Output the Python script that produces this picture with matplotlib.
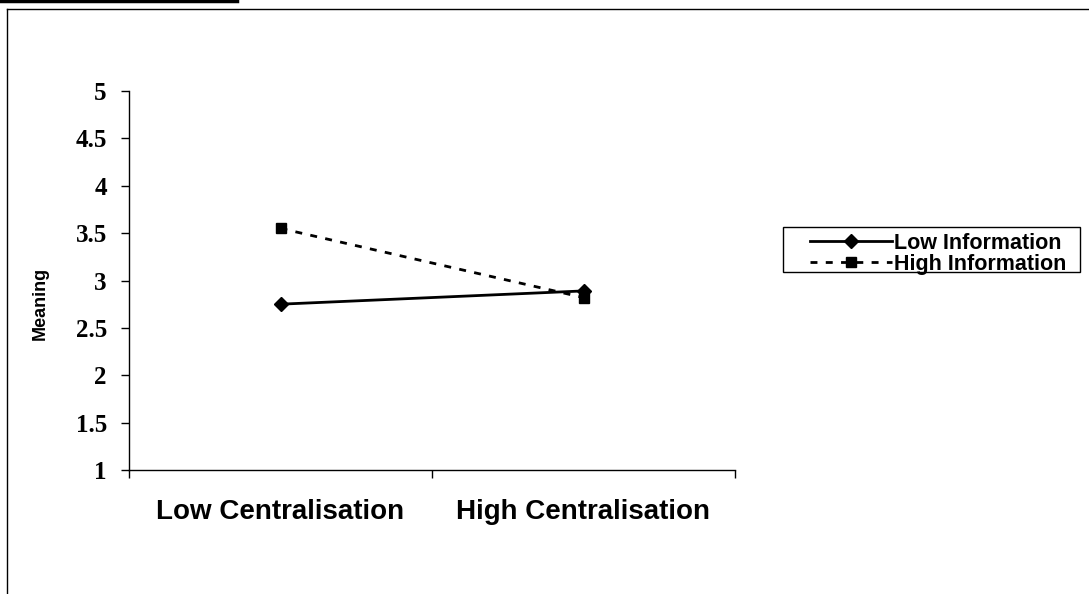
import matplotlib.pyplot as plt
from matplotlib.lines import Line2D
from matplotlib.patches import Rectangle

categories = ["Low Centralisation", "High Centralisation"]
low_info = [2.75, 2.89]
high_info = [3.55, 2.82]
series_names = ["Low Information", "High Information"]
y_ticks = [1, 1.5, 2, 2.5, 3, 3.5, 4, 4.5, 5]
y_tick_labels = ["1", "1.5", "2", "2.5", "3", "3.5", "4", "4.5", "5"]

W, H = 1089, 594


def fx(px):
    return px / W


def fy(py):
    return 1 - py / H


fig = plt.figure(figsize=(W / 100, H / 100), dpi=100)
ax = fig.add_axes([fx(129), fy(470), fx(735) - fx(129), fy(91) - fy(470)])

x = list(range(len(categories)))
ax.plot(x, low_info, color="black", lw=2, marker="D", markersize=7,
        label=series_names[0])
ax.plot(x, high_info, color="black", lw=2, linestyle=(0, (2.5, 3)),
        marker="s", markersize=7, label=series_names[1])

ax.set_xlim(-0.5, len(categories) - 0.5)
ax.set_ylim(1, 5)

# category labels sit between the tick marks
ax.set_xticks(x)
ax.set_xticklabels(categories, fontfamily="Liberation Sans",
                   fontweight="bold", fontsize=20)
ax.set_xticks([-0.5, 0.5, 1.5], minor=True)
ax.tick_params(axis="x", which="major", length=0, pad=21)
ax.tick_params(axis="x", which="minor", length=6, direction="out", width=1)

ax.set_yticks(y_ticks)
ax.set_yticklabels(y_tick_labels, fontfamily="Liberation Serif",
                   fontweight="bold", fontsize=18)
ax.tick_params(axis="y", length=6, width=1, pad=10)

for side in ("top", "right"):
    ax.spines[side].set_visible(False)
for side in ("left", "bottom"):
    ax.spines[side].set_linewidth(1)

fig.text(fx(40), fy(303), "Meaning", rotation=90, ha="center", va="center",
         fontfamily="Liberation Sans", fontweight="bold", fontsize=13)

# legend entries without their own frame; the box is drawn separately
# so it can leave room on the left of the handles
leg = fig.legend(loc="upper left", bbox_to_anchor=(fx(810), fy(233)),
                 prop={"family": "Liberation Sans", "weight": "bold", "size": 15.5},
                 frameon=False, handlelength=3.8, handletextpad=0.12,
                 labelspacing=0.0, borderpad=0, borderaxespad=0)
fig.add_artist(Rectangle((fx(783), fy(272)), fx(1080) - fx(783),
                         fy(227) - fy(272), transform=fig.transFigure,
                         fill=False, edgecolor="black", lw=1))

# outer chart-area border
fig.add_artist(Line2D([fx(7), fx(7)], [fy(9), 0], color="black", lw=1))
fig.add_artist(Line2D([fx(7), 1], [fy(9), fy(9)], color="black", lw=1))
fig.add_artist(Line2D([0, fx(237)], [fy(1), fy(1)], color="black", lw=2.5))

fig.savefig("out.png", dpi=100)
